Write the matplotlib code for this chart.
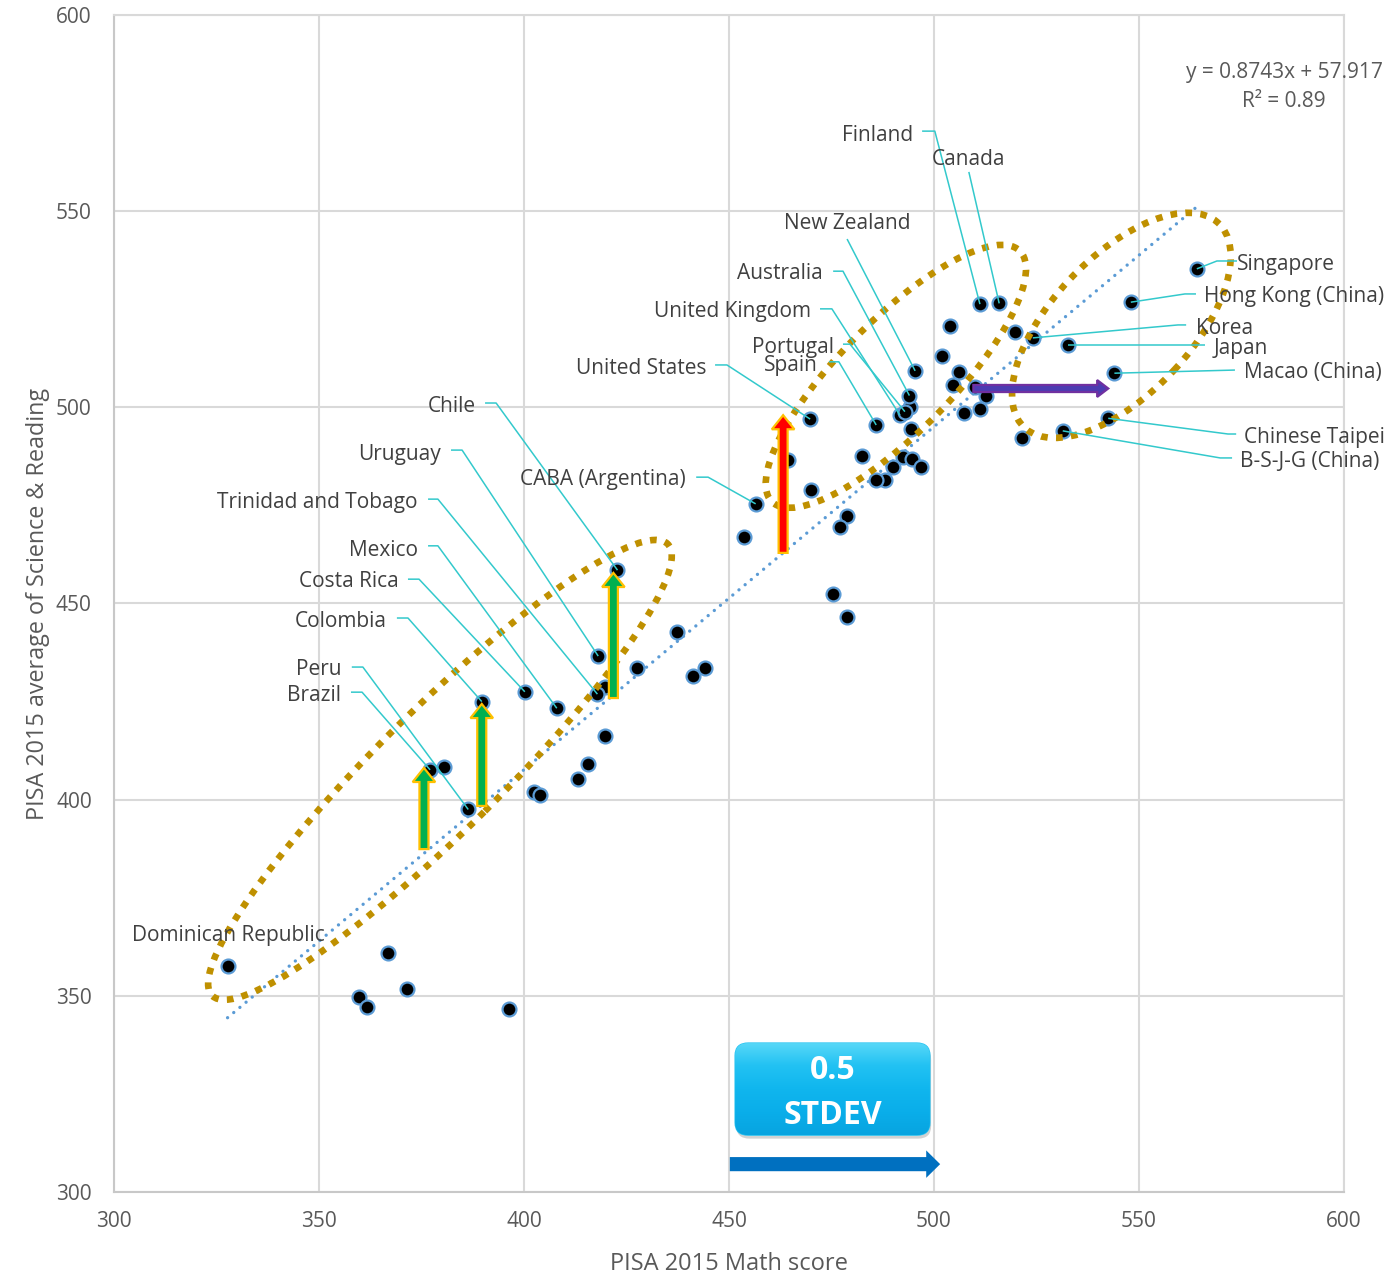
import matplotlib
matplotlib.use("Agg")
import matplotlib.pyplot as plt
from matplotlib import font_manager
from matplotlib.patches import Ellipse, FancyArrow, FancyBboxPatch
from matplotlib.colors import LinearSegmentedColormap
import numpy as np

# ---------------------------------------------------------------- data
labeled_names = [
    "Singapore", "Hong Kong (China)", "Korea", "Japan", "Macao (China)",
    "Chinese Taipei", "B-S-J-G (China)", "Finland", "Canada", "New Zealand",
    "Australia", "United Kingdom", "Portugal", "Spain", "United States",
    "CABA (Argentina)", "Chile", "Uruguay", "Trinidad and Tobago", "Mexico",
    "Costa Rica", "Colombia", "Peru", "Brazil", "Dominican Republic",
]
labeled_math = [
    564.1, 548.0, 524.1, 532.6, 544.0,
    542.5, 531.4, 511.2, 515.9, 495.4,
    494.0, 491.7, 492.9, 485.9, 469.8,
    456.5, 422.8, 418.1, 417.9, 408.0,
    400.2, 389.7, 386.4, 377.1, 327.7,
]
labeled_scirea = [
    535.3, 526.8, 517.7, 515.9, 508.7,
    497.2, 494.0, 526.3, 526.5, 509.3,
    503.0, 498.0, 498.9, 495.5, 497.0,
    475.4, 458.5, 436.6, 426.9, 423.3,
    427.5, 425.0, 397.5, 407.6, 357.7,
]

other_math = [
    503.9, 519.8, 501.9, 506.1, 504.7, 510.0, 512.6, 507.2, 511.2, 521.4,
    494.1, 494.3, 482.5, 464.5, 469.9, 453.7, 492.4, 494.7, 496.8, 489.9,
    488.0, 485.8, 478.7, 477.1, 475.3, 478.9, 419.8, 380.6, 427.6, 437.2,
    441.3, 444.1, 419.8, 415.5, 413.2, 402.5, 403.9, 366.9, 359.8, 361.6,
    371.4, 396.3,
]
other_scirea = [
    520.7, 519.1, 513.1, 509.1, 505.7, 505.3, 502.9, 498.6, 499.7, 492.1,
    500.0, 494.6, 487.7, 486.7, 478.9, 466.9, 487.4, 486.8, 484.9, 484.7,
    481.5, 481.5, 472.3, 469.4, 452.4, 446.6, 428.8, 408.2, 433.5, 442.8,
    431.6, 433.5, 416.2, 409.1, 405.2, 401.9, 401.2, 361.0, 349.8, 347.1,
    351.7, 346.6,
]

trend_slope = 0.8743
trend_intercept = 57.917
trend_r2 = 0.89

x_ticks = [300, 350, 400, 450, 500, 550, 600]
y_ticks = [300, 350, 400, 450, 500, 550, 600]

# score shifts highlighted with arrows: (x, y_from, y_to)
green_shifts = [(375.6, 387.4, 408.1), (389.7, 398.4, 424.4), (421.8, 425.9, 457.8)]
red_shift = (463.2, 462.9, 498.0)
# horizontal shift: (x_from, x_to, y)
purple_shift = (509.6, 542.5, 504.8)
stdev_shift = (450.2, 501.5, 307.1)

# ---------------------------------------------------------------- fonts
available = {f.name for f in font_manager.fontManager.ttflist}


def pick(*names):
    for n in names:
        if n in available:
            return n
    return "DejaVu Sans"


text_font = pick("Open Sans", "Noto Sans", "DejaVu Sans")
tick_font = pick("Liberation Sans Narrow", "Open Sans", "DejaVu Sans")

LABEL_COLOR = "#404040"
AXIS_COLOR = "#595959"
LEADER = "#33C9CC"
GOLD = "#BF9000"

# ---------------------------------------------------------------- figure
fig = plt.figure(figsize=(13.88, 12.75), dpi=100)
ax = fig.add_axes([0.08213, 0.06510, 0.88617, 0.92314])
ax.set_facecolor("white")

ax.set_xlim(300, 600)
ax.set_ylim(300, 600)
ax.set_xticks(x_ticks)
ax.set_yticks(y_ticks)
ax.grid(True, color="#D9D9D9", lw=1.5, zorder=0)
ax.set_axisbelow(True)
for side, sp in ax.spines.items():
    sp.set_color("#C8C8C8" if side in ("left", "bottom") else "#D9D9D9")
    sp.set_linewidth(1.5)
ax.tick_params(length=0, labelsize=15, labelcolor=AXIS_COLOR)
ax.tick_params(axis="y", pad=16)
ax.tick_params(axis="x", pad=14)
for t in ax.get_xticklabels() + ax.get_yticklabels():
    t.set_fontfamily(tick_font)

ax.set_xlabel("PISA 2015 Math score", fontsize=17, color=AXIS_COLOR,
              fontfamily=text_font, labelpad=14)
ax.set_ylabel("PISA 2015 average of Science & Reading", fontsize=16.8,
              color=AXIS_COLOR, fontfamily=text_font, labelpad=4)

# linear trend line
all_math = np.array(labeled_math + other_math)
tx = np.array([all_math.min(), all_math.max()])
ax.plot(tx, trend_slope * tx + trend_intercept, color="#5B9BD5", lw=2.4,
        ls=(0, (0.01, 2.4)), dash_capstyle="round", zorder=2)

# data points
ax.scatter(other_math + labeled_math, other_scirea + labeled_scirea, s=100,
           c="black", edgecolors="#5B9BD5", linewidths=1.6, zorder=3)

# dotted group outlines
for (cx, cy), w, h, ang in [((379.5, 407.6), 160.0, 30.4, 46.1),
                            ((490.7, 507.9), 88.0, 27.9, 46.9),
                            ((545.7, 520.9), 70.4, 34.4, 48.4)]:
    ax.add_patch(Ellipse((cx, cy), w, h, angle=ang, fill=False, ec=GOLD,
                         lw=4.8, ls=(0, (1, 1.25)), capstyle="butt", zorder=4))

# country labels with leader lines
label_layout = {
    "Finland": ((494.9, 569.9), "right", [(497.1, 570.4), (500.2, 570.4)]),
    "Canada": ((508.5, 563.8), "center", [(508.5, 560.0)]),
    "New Zealand": ((478.8, 547.5), "center", [(478.8, 542.9)]),
    "Australia": ((472.9, 534.7), "right", [(475.4, 534.7), (477.8, 534.7)]),
    "United Kingdom": ((470.0, 525.1), "right", [(472.2, 525.1), (475.1, 525.1)]),
    "Portugal": ((475.6, 515.9), "right", [(477.8, 516.1), (479.5, 516.1)]),
    "Spain": ((471.7, 511.3), "right", [(474.4, 511.6), (476.8, 511.6)]),
    "United States": ((444.4, 510.5), "right", [(446.6, 510.8), (449.5, 510.8)]),
    "CABA (Argentina)": ((439.5, 482.2), "right", [(442.0, 482.2), (444.9, 482.2)]),
    "Chile": ((388.3, 500.8), "right", [(390.5, 501.1), (393.2, 501.1)]),
    "Uruguay": ((379.8, 488.6), "right", [(382.2, 489.1), (384.9, 489.1)]),
    "Trinidad and Tobago": ((374.1, 476.4), "right", [(376.6, 476.6), (379.0, 476.6)]),
    "Mexico": ((374.1, 464.1), "right", [(376.6, 464.7), (379.0, 464.7)]),
    "Costa Rica": ((369.5, 456.2), "right", [(371.7, 456.2), (374.4, 456.2)]),
    "Colombia": ((366.6, 446.0), "right", [(369.0, 446.3), (371.7, 446.3)]),
    "Peru": ((355.6, 433.6), "right", [(358.0, 433.8), (360.7, 433.8)]),
    "Brazil": ((355.4, 427.2), "right", [(357.8, 427.4), (360.5, 427.4)]),
    "Dominican Republic": ((327.8, 366.0), "center", []),
    "Singapore": ((573.9, 537.0), "left", [(573.9, 537.3), (569.0, 537.3)]),
    "Hong Kong (China)": ((565.9, 528.9), "left", [(563.9, 528.9), (561.2, 528.9)]),
    "Korea": ((563.9, 520.7), "left", [(561.5, 521.0), (559.5, 521.0)]),
    "Japan": ((568.3, 515.6), "left", [(566.1, 515.9)]),
    "Macao (China)": ((575.6, 509.3), "left", [(573.4, 509.5)]),
    "Chinese Taipei": ((575.6, 492.9), "left", [(573.7, 493.2), (571.7, 493.2)]),
    "B-S-J-G (China)": ((574.6, 486.8), "left", [(572.7, 487.1), (569.8, 487.1)]),
}
text_drop = 0.55  # nudge from visual text centre to matplotlib's box centre

for name, mx, my in zip(labeled_names, labeled_math, labeled_scirea):
    (lx, ly), ha, path = label_layout[name]
    if path:
        pts = path + [(mx, my)]
        ax.plot([p[0] for p in pts], [p[1] for p in pts], color=LEADER,
                lw=1.1, zorder=5, solid_capstyle="butt", clip_on=False)
    ax.text(lx, ly - text_drop, name, ha=ha, va="center", fontsize=15,
            color=LABEL_COLOR, fontfamily=text_font, zorder=8, clip_on=False)

# shift arrows
for x, y0, y1 in green_shifts:
    ax.add_patch(FancyArrow(x, y0, 0, y1 - y0, width=2.2, head_width=5.5,
                            head_length=3.6, length_includes_head=True,
                            fc="#00B050", ec="#FFC000", lw=1.6, zorder=6))
x, y0, y1 = red_shift
ax.add_patch(FancyArrow(x, y0, 0, y1 - y0, width=2.2, head_width=5.5,
                        head_length=3.6, length_includes_head=True,
                        fc="#FF0000", ec="#FFC000", lw=1.6, zorder=6))
x0, x1, y = purple_shift
ax.add_patch(FancyArrow(x0, y, x1 - x0, 0, width=1.8, head_width=4.3,
                        head_length=2.7, length_includes_head=True,
                        fc="#4B3CB2", ec="#7030A0", lw=1.6, zorder=6))
x0, x1, y = stdev_shift
ax.add_patch(FancyArrow(x0, y, x1 - x0, 0, width=3.6, head_width=7.0,
                        head_length=3.4, length_includes_head=True,
                        fc="#0070C0", ec="none", zorder=6))

# "0.5 STDEV" badge
bx0, bx1, by0, by1 = 451.5, 499.0, 314.5, 337.96
shadow = FancyBboxPatch((bx0 + 0.3, by0 - 0.9), bx1 - bx0, by1 - by0,
                        boxstyle="round,pad=0,rounding_size=3.2",
                        fc="#7F7F7F", ec="none", alpha=0.35, zorder=6)
ax.add_patch(shadow)
badge = FancyBboxPatch((bx0, by0), bx1 - bx0, by1 - by0,
                       boxstyle="round,pad=0,rounding_size=3.2",
                       fc="#12B8EF", ec="#29C4F2", lw=1.0, zorder=7)
ax.add_patch(badge)
cmap = LinearSegmentedColormap.from_list(
    "badge", ["#5AD9F8", "#22C2F3", "#10B6EE", "#0AAEEA", "#08A4E0"])
grad = np.linspace(0, 1, 256).reshape(-1, 1)
im = ax.imshow(grad, cmap=cmap, extent=[bx0, bx1, by0, by1], origin="upper",
               aspect="auto", zorder=7.1, interpolation="bilinear")
im.set_clip_path(badge)
ax.text((bx0 + bx1) / 2, 331.0, "0.5", ha="center", va="center", fontsize=23,
        fontweight="bold", color="white", fontfamily=text_font, zorder=8)
ax.text((bx0 + bx1) / 2, 319.6, "STDEV", ha="center", va="center", fontsize=23,
        fontweight="bold", color="white", fontfamily=text_font, zorder=8)

# trend equation
ax.text(585.4, 586.0 - text_drop, f"y = {trend_slope}x + {trend_intercept}",
        ha="center", va="center", fontsize=15, color=AXIS_COLOR,
        fontfamily=text_font, zorder=8, clip_on=False)
ax.text(585.4, 578.6 - text_drop, f"R² = {trend_r2}", ha="center", va="center",
        fontsize=15, color=AXIS_COLOR, fontfamily=text_font, zorder=8,
        clip_on=False)

ax.set_xlim(300, 600)
ax.set_ylim(300, 600)

fig.savefig("out.png", dpi=100, facecolor="white")
